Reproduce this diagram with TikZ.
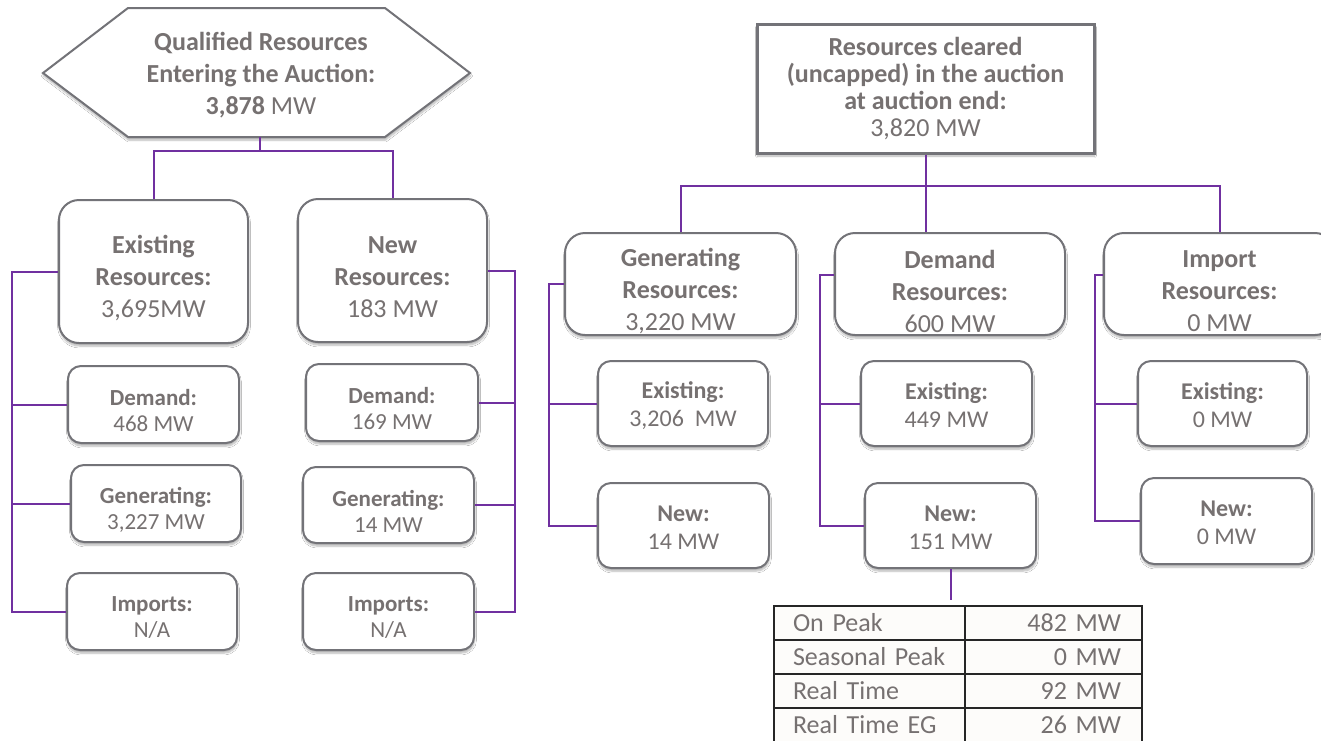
\documentclass[tikz,border=0pt]{standalone}
\usepackage{fontspec}
\setmainfont{Carlito}
\usetikzlibrary{shadows.blur}
\definecolor{txt}{RGB}{118,113,113}
\definecolor{bord}{RGB}{115,115,120}
\definecolor{purp}{RGB}{112,48,160}
\definecolor{cellbg}{RGB}{253,252,250}
\tikzset{
  x=1pt,y=-1pt,
  shd/.style={blur shadow={shadow blur steps=6,shadow xshift=0.5pt,shadow yshift=-3pt,shadow opacity=30}},
  bigbox/.style={draw=bord,line width=2pt,fill=white,rounded corners=20pt,shd,inner sep=0pt},
  smallbox/.style={draw=bord,line width=2pt,fill=white,rounded corners=13pt,shd,inner sep=0pt},
  btext/.style={align=center,text=txt,inner sep=0pt,font=\fontsize{26}{32}\selectfont},
  stext/.style={align=center,text=txt,inner sep=0pt,font=\fontsize{23}{26}\selectfont},
  rtext/.style={align=center,text=txt,inner sep=0pt,font=\fontsize{24}{28}\selectfont},
  conn/.style={draw=purp,line width=2pt},
  cell/.style={draw=black!85,line width=1.8pt,fill=cellbg,text=txt,inner sep=0pt,
     minimum height=34pt,font=\fontsize{26}{30}\selectfont},
  lcell/.style={cell,minimum width=191pt,text width=153pt,align=left},
  rcell/.style={cell,minimum width=177pt,text width=135pt,align=right},
}
\begin{document}
\begin{tikzpicture}
\useasboundingbox (0,0) rectangle (1321,740);
\clip (0,0) rectangle (1321,740);
\fill[white] (0,0) rectangle (1321,740);

% ---------- left tree ----------
\draw[draw=bord,line width=2pt,fill=white,shd] (43,73) -- (128,8) -- (385,8) -- (470,73) -- (385,137) -- (128,137) -- cycle;
\node[btext] (hex) at (261,75)
  {\textbf{Qualified Resources}\\\textbf{Entering the Auction:}\\\textbf{3,878} MW};
\coordinate (hexb) at (260,137);
\coordinate (hubL) at (260,151);

\node[bigbox,minimum width=189pt,minimum height=143pt] (ex) at (153.5,271.5) {};
\node[btext] (exT) at ([yshift=-7pt]ex.center) {\textbf{Existing}\\\textbf{Resources:}\\3,695MW};
\node[bigbox,minimum width=189pt,minimum height=143pt] (nw) at (392.5,270.5) {};
\node[btext] (nwT) at ([yshift=-7pt]nw.center) {\textbf{New}\\\textbf{Resources:}\\183 MW};

\node[smallbox,minimum width=171pt,minimum height=77pt] (dL) at (153.5,404.5) {};
\node[stext] at ([yshift=-6pt]dL.center) {\textbf{Demand:}\\468 MW};
\node[smallbox,minimum width=170pt,minimum height=77pt] (gL) at (156,503.5) {};
\node[stext] at ([yshift=-6pt]gL.center) {\textbf{Generating:}\\3,227 MW};
\node[smallbox,minimum width=170pt,minimum height=77pt] (iL) at (152,611.5) {};
\node[stext] at ([yshift=-6pt]iL.center) {\textbf{Imports:}\\N/A};
\node[smallbox,minimum width=172pt,minimum height=77pt] (dR) at (392,402.5) {};
\node[stext] at ([yshift=-6pt]dR.center) {\textbf{Demand:}\\169 MW};
\node[smallbox,minimum width=171pt,minimum height=76pt] (gR) at (388.5,505) {};
\node[stext] at ([yshift=-6pt]gR.center) {\textbf{Generating:}\\14 MW};
\node[smallbox,minimum width=171pt,minimum height=77pt] (iR) at (388.5,611.5) {};
\node[stext] at ([yshift=-6pt]iR.center) {\textbf{Imports:}\\N/A};

\coordinate (busL) at (12,0);
\coordinate (busR) at (515,0);

\draw[conn] (hexb) -- (hubL);
\draw[conn] (ex.north) -- (ex.north |- hubL) -- (nw.north |- hubL) -- (nw.north);
\draw[conn] (ex.west) -- (ex.west -| busL) -- (iL.west -| busL) -- (iL.west);
\draw[conn] (dL.west) -- (dL.west -| busL);
\draw[conn] (gL.west) -- (gL.west -| busL);
\draw[conn] (nw.east) -- (nw.east -| busR) -- (iR.east -| busR) -- (iR.east);
\draw[conn] (dR.east) -- (dR.east -| busR);
\draw[conn] (gR.east) -- (gR.east -| busR);

% ---------- right tree ----------
\node[draw=bord,line width=3pt,fill=white,shd,align=center,text=txt,inner sep=0pt,
  font=\fontsize{26}{27}\selectfont,minimum width=337pt,minimum height=129pt] (top) at (925.5,88.5)
  {\textbf{Resources cleared}\\\textbf{(uncapped) in the auction}\\\textbf{at auction end:}\\3,820 MW};
\coordinate (hubR) at (925.5,186);

\node[bigbox,minimum width=231pt,minimum height=102pt] (genR) at (680.5,284) {};
\node[btext] at ([yshift=-7pt]genR.center) {\textbf{Generating}\\\textbf{Resources:}\\3,220 MW};
\node[bigbox,minimum width=230pt,minimum height=102pt] (demR) at (950,284) {};
\node[btext] at ([yshift=-7pt]demR.center) {\textbf{Demand}\\\textbf{Resources:}\\600 MW};
\node[bigbox,minimum width=231pt,minimum height=102pt] (impR) at (1219.5,284) {};
\node[btext] at ([yshift=-7pt]impR.center) {\textbf{Import}\\\textbf{Resources:}\\0 MW};

\draw[conn] (top.south) -- (top.south |- demR.north);
\draw[conn] (genR.north) -- (genR.north |- hubR) -- (impR.north |- hubR) -- (impR.north);

\node[smallbox,minimum width=170pt,minimum height=85pt] (exG) at (683,403.5) {};
\node[rtext] at ([yshift=-2pt]exG.center) {\textbf{Existing:}\\3,206~ MW};
\node[smallbox,minimum width=171pt,minimum height=85pt] (nG) at (683.5,525.5) {};
\node[rtext] at ([yshift=-2pt]nG.center) {\textbf{New:}\\14 MW};
\node[smallbox,minimum width=171pt,minimum height=85pt] (exD) at (946.5,403.5) {};
\node[rtext] at ([yshift=-2pt]exD.center) {\textbf{Existing:}\\449 MW};
\node[smallbox,minimum width=171pt,minimum height=85pt] (nD) at (950.5,525.5) {};
\node[rtext] at ([yshift=-2pt]nD.center) {\textbf{New:}\\151 MW};
\node[smallbox,minimum width=169pt,minimum height=85pt] (exI) at (1222.5,403.5) {};
\node[rtext] at ([yshift=-2pt]exI.center) {\textbf{Existing:}\\0 MW};
\node[smallbox,minimum width=171pt,minimum height=86pt] (nI) at (1226.5,521) {};
\node[rtext] at ([yshift=-2pt]nI.center) {\textbf{New:}\\0 MW};

\coordinate (busG) at (549,0);
\coordinate (busD) at (820,275);
\coordinate (busI) at (1095,275);

\draw[conn] (genR.west) -- (genR.west -| busG) -- (nG.west -| busG) -- (nG.west);
\draw[conn] (exG.west) -- (exG.west -| busG);
\draw[conn] (busD -| demR.west) -- (busD) -- (busD |- nD.west) -- (nD.west);
\draw[conn] (exD.west) -- (exD.west -| busD);
\draw[conn] (busI -| impR.west) -- (busI) -- (busI |- nI.west) -- (nI.west);
\draw[conn] (exI.west) -- (exI.west -| busI);

% ---------- table ----------
\node[lcell] (t1a) at (869.5,623) {On Peak};
\node[rcell] (t1b) at (1053.5,623) {482 MW};
\node[lcell] (t2a) at (869.5,657) {Seasonal Peak};
\node[rcell] (t2b) at (1053.5,657) {0 MW};
\node[lcell] (t3a) at (869.5,691) {Real Time};
\node[rcell] (t3b) at (1053.5,691) {92 MW};
\node[lcell] (t4a) at (869.5,725) {Real Time EG};
\node[rcell] (t4b) at (1053.5,725) {26 MW};

\draw[conn] (nD.south) -- ([yshift=5pt]nD.south |- t1a.north);
\end{tikzpicture}
\end{document}
